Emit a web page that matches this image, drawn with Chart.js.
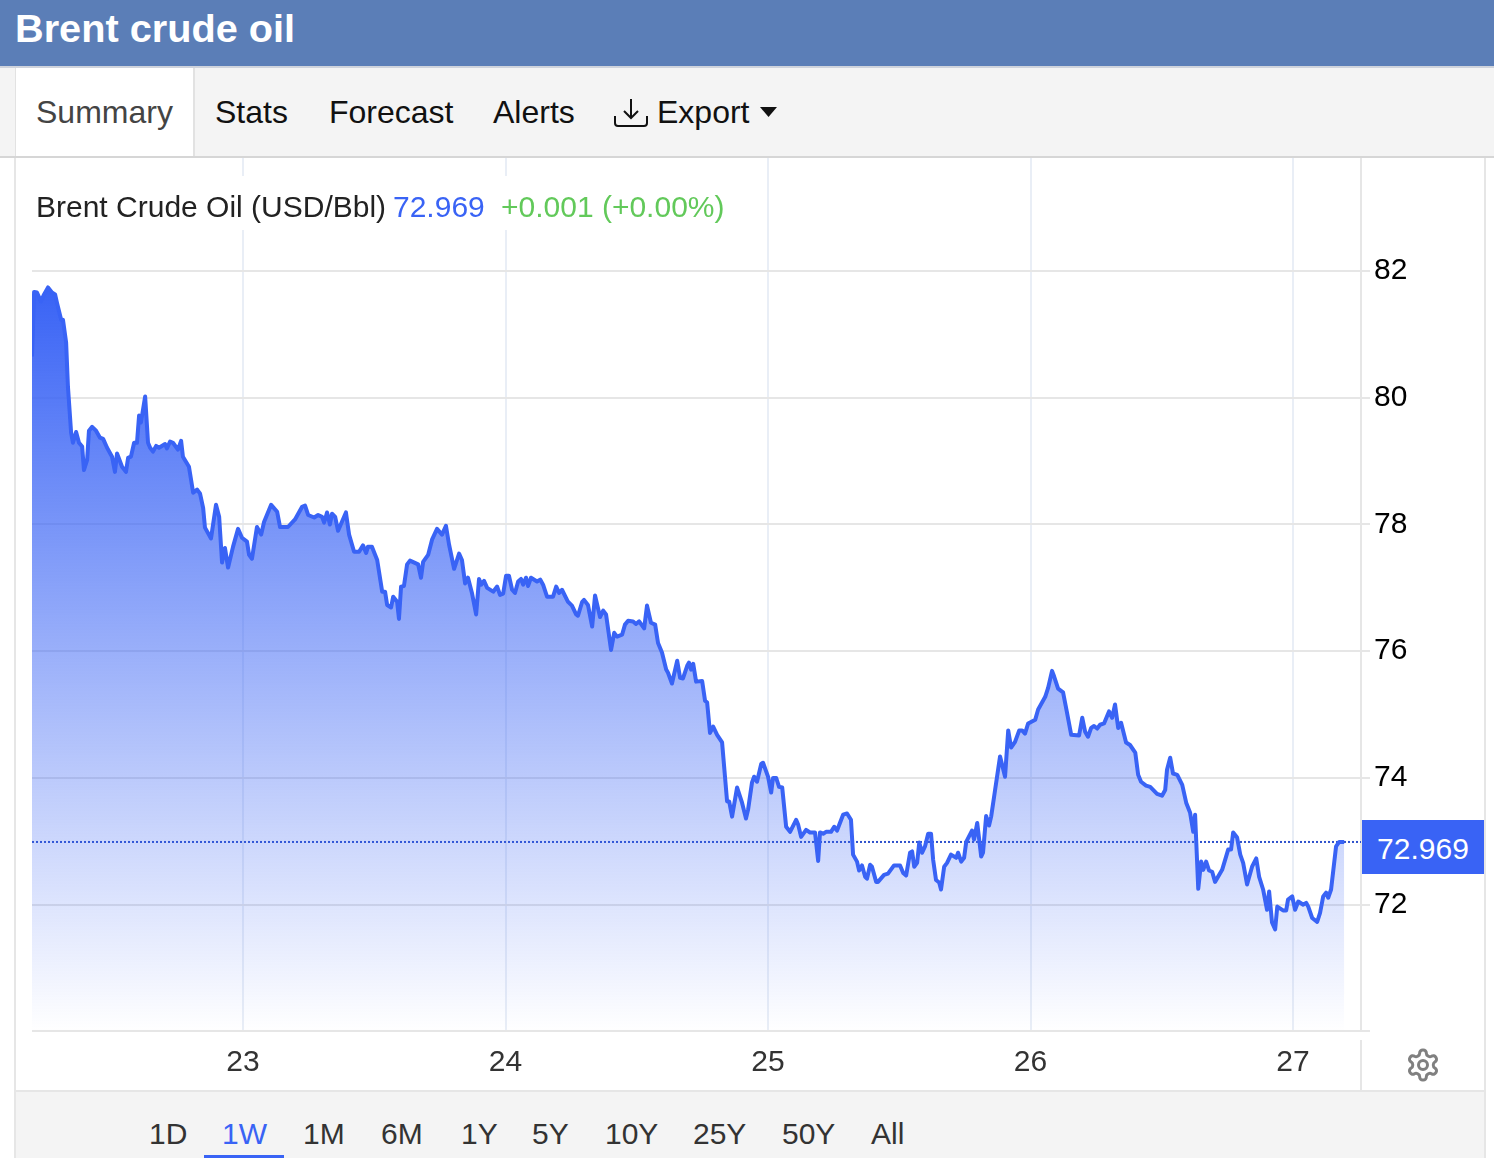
<!DOCTYPE html>
<html>
<head>
<meta charset="utf-8">
<title>Brent crude oil</title>
<script src="https://cdn.jsdelivr.net/npm/chart.js@4"></script>
<style>
  html, body { margin: 0; padding: 0; background: #fff; }
  body { position: relative; width: 1494px; height: 1158px; overflow: hidden; font-family: 'Liberation Sans', Arial, sans-serif; }
  .abs { position: absolute; white-space: nowrap; }
  #top-bar { left: 0; top: 0; width: 1494px; height: 66px; background: #5b7eb7; }
  #title { left: 15px; top: 5px; line-height: 46px; font-size: 39.7px; font-weight: bold; color: #fff; }
  #tab-bar { left: 0; top: 66px; width: 1494px; height: 90px; background: #f4f4f4; border-top: 2px solid #cfd3dc; border-bottom: 2px solid #d6d6d6; box-sizing: content-box; height: 88px; }
  #tab-active { left: 15px; top: 68px; width: 177px; height: 88px; background: #fff; border-left: 1px solid #e2e2e2; border-right: 2px solid #e2e2e2; }
  .tab { top: 92px; line-height: 40px; font-size: 32px; color: #111; }
  #frame { left: 14px; top: 158px; width: 1470px; height: 1000px; border-left: 2px solid #e6e6e6; border-right: 2px solid #e6e6e6; box-sizing: border-box; width: 1472px; }
  #chart-wrap { left: 16px; top: 158px; width: 1468px; height: 932px; }
  #legend { left: 32px; top: 176px; width: 700px; height: 54px; background: #fff; line-height: 62px; font-size: 30px; color: #222; }
  #axis-split { left: 1360px; top: 1040px; width: 2px; height: 50px; background: #e6e6e6; }
  #price-box { left: 1362px; top: 820px; width: 122px; height: 54px; background: #3963f5; color: #fff; font-size: 30px; line-height: 57px; text-align: center; }
  #range-bar { left: 16px; top: 1090px; width: 1468px; height: 68px; background: #f4f4f4; border-top: 2px solid #e6e6e6; box-sizing: border-box; }
  .range { top: 1114px; line-height: 40px; font-size: 30px; color: #333; }
  #range-line { left: 204px; top: 1155px; width: 80px; height: 3px; background: #3963f5; }
</style>
</head>
<body>
<div class="abs" id="top-bar"></div>
<div class="abs" id="title">Brent crude oil</div>
<div class="abs" id="tab-bar"></div>
<div class="abs" id="tab-active"></div>
<div class="abs tab" style="left:36px;color:#444">Summary</div>
<div class="abs tab" style="left:215px">Stats</div>
<div class="abs tab" style="left:329px">Forecast</div>
<div class="abs tab" style="left:493px">Alerts</div>
<svg class="abs" style="left:613px;top:97px" width="36" height="32" viewBox="0 0 36 32" fill="none" stroke="#111" stroke-width="2">
  <path d="M18 2V21M11 14L18 21L25 14"/>
  <path d="M2 19V26Q2 29 5 29H31Q34 29 34 26V19"/>
</svg>
<div class="abs tab" style="left:657px">Export</div>
<svg class="abs" style="left:760px;top:107px" width="17" height="10"><path d="M0 0H17L8.5 10Z" fill="#111"/></svg>

<div class="abs" id="frame"></div>
<div class="abs" id="chart-wrap"><canvas id="brentChart" width="1468" height="932"></canvas></div>
<div class="abs" id="legend"><span style="position:absolute;left:4px">Brent Crude Oil (USD/Bbl)</span><span style="position:absolute;left:361px;color:#3963f5">72.969</span><span style="position:absolute;left:469px;color:#62c95a">+0.001 (+0.00%)</span></div>
<div class="abs" id="price-box">72.969</div>
<div class="abs" id="axis-split"></div>
<svg class="abs" style="left:1405px;top:1047px" width="36" height="36" viewBox="0 0 24 24" fill="none" stroke="#808080" stroke-width="2">
  <path d="M12.22 2h-.44a2 2 0 0 0-2 2v.18a2 2 0 0 1-1 1.73l-.43.25a2 2 0 0 1-2 0l-.15-.08a2 2 0 0 0-2.73.73l-.22.38a2 2 0 0 0 .73 2.73l.15.1a2 2 0 0 1 1 1.72v.51a2 2 0 0 1-1 1.74l-.15.09a2 2 0 0 0-.73 2.73l.22.38a2 2 0 0 0 2.73.73l.15-.08a2 2 0 0 1 2 0l.43.25a2 2 0 0 1 1 1.73V20a2 2 0 0 0 2 2h.44a2 2 0 0 0 2-2v-.18a2 2 0 0 1 1-1.73l.43-.25a2 2 0 0 1 2 0l.15.08a2 2 0 0 0 2.73-.73l.22-.39a2 2 0 0 0-.73-2.73l-.15-.08a2 2 0 0 1-1-1.74v-.5a2 2 0 0 1 1-1.74l.15-.09a2 2 0 0 0 .73-2.73l-.22-.38a2 2 0 0 0-2.73-.73l-.15.08a2 2 0 0 1-2 0l-.43-.25a2 2 0 0 1-1-1.73V4a2 2 0 0 0-2-2z"/>
  <circle cx="12" cy="12" r="3"/>
</svg>

<div class="abs" id="range-bar"></div>
<div class="abs range" style="left:149px">1D</div>
<div class="abs range" style="left:222px;color:#3963f5">1W</div>
<div class="abs range" style="left:303px">1M</div>
<div class="abs range" style="left:381px">6M</div>
<div class="abs range" style="left:461px">1Y</div>
<div class="abs range" style="left:532px">5Y</div>
<div class="abs range" style="left:605px">10Y</div>
<div class="abs range" style="left:693px">25Y</div>
<div class="abs range" style="left:782px">50Y</div>
<div class="abs range" style="left:871px">All</div>
<div class="abs" id="range-line"></div>

<script>
'use strict';

// ********************* DATA *********************

// day of the month
let times = [
  22.196, 22.204, 22.215, 22.230, 22.242, 22.257, 22.272, 22.284, 22.291, 22.307, 22.314, 22.326, 22.333, 22.345, 22.352, 22.364,
  22.375, 22.387, 22.394, 22.406, 22.413, 22.425, 22.440, 22.455, 22.467, 22.482, 22.501, 22.512, 22.520, 22.539, 22.554, 22.562,
  22.573, 22.585, 22.596, 22.604, 22.611, 22.627, 22.638, 22.646, 22.657, 22.669, 22.680, 22.703, 22.710, 22.722, 22.733, 22.752,
  22.764, 22.771, 22.794, 22.810, 22.825, 22.836, 22.848, 22.855, 22.878, 22.897, 22.909, 22.920, 22.931, 22.943, 22.962, 22.981,
  22.996, 23.015, 23.023, 23.034, 23.053, 23.069, 23.080, 23.107, 23.130, 23.141, 23.171, 23.198, 23.225, 23.236, 23.248, 23.271,
  23.286, 23.301, 23.309, 23.320, 23.331, 23.339, 23.351, 23.362, 23.392, 23.404, 23.423, 23.442, 23.457, 23.469, 23.476, 23.491,
  23.511, 23.530, 23.541, 23.549, 23.564, 23.572, 23.587, 23.594, 23.602, 23.613, 23.625, 23.636, 23.667, 23.678, 23.686, 23.705,
  23.720, 23.739, 23.758, 23.773, 23.785, 23.804, 23.823, 23.834, 23.846, 23.857, 23.872, 23.888, 23.899, 23.907, 23.918, 23.930,
  23.953, 23.968, 23.979, 23.991, 24.002, 24.013, 24.025, 24.036, 24.048, 24.059, 24.067, 24.078, 24.086, 24.097, 24.120, 24.132,
  24.143, 24.158, 24.181, 24.193, 24.204, 24.215, 24.238, 24.253, 24.269, 24.276, 24.292, 24.299, 24.314, 24.330, 24.341, 24.360,
  24.372, 24.383, 24.402, 24.414, 24.425, 24.444, 24.455, 24.467, 24.486, 24.497, 24.509, 24.528, 24.539, 24.554, 24.570, 24.581,
  24.596, 24.612, 24.619, 24.634, 24.654, 24.665, 24.676, 24.692, 24.699, 24.707, 24.715, 24.726, 24.749, 24.760, 24.768, 24.779,
  24.791, 24.806, 24.825, 24.844, 24.852, 24.863, 24.882, 24.901, 24.916, 24.924, 24.939, 24.947, 24.958, 24.974, 24.981, 25.000,
  25.012, 25.019, 25.031, 25.042, 25.054, 25.069, 25.084, 25.107, 25.115, 25.126, 25.145, 25.160, 25.179, 25.191, 25.198, 25.210,
  25.221, 25.240, 25.252, 25.263, 25.286, 25.301, 25.316, 25.324, 25.339, 25.347, 25.358, 25.370, 25.377, 25.389, 25.396, 25.412,
  25.419, 25.442, 25.457, 25.480, 25.503, 25.515, 25.526, 25.541, 25.549, 25.557, 25.568, 25.576, 25.587, 25.598, 25.610, 25.621,
  25.629, 25.640, 25.652, 25.659, 25.671, 25.682, 25.697, 25.717, 25.724, 25.736, 25.747, 25.755, 25.777, 25.785, 25.797, 25.812,
  25.819, 25.831, 25.842, 25.850, 25.865, 25.884, 25.903, 25.915, 25.926, 25.941, 25.957, 25.968, 25.979, 25.991, 26.018, 26.029,
  26.056, 26.067, 26.082, 26.090, 26.105, 26.124, 26.139, 26.155, 26.185, 26.197, 26.208, 26.219, 26.231, 26.242, 26.254, 26.265,
  26.280, 26.299, 26.311, 26.322, 26.334, 26.345, 26.364, 26.379, 26.399, 26.410, 26.421, 26.440, 26.456, 26.482, 26.501, 26.513,
  26.520, 26.532, 26.543, 26.559, 26.578, 26.593, 26.608, 26.620, 26.627, 26.639, 26.650, 26.658, 26.669, 26.680, 26.692, 26.703,
  26.730, 26.753, 26.764, 26.772, 26.787, 26.799, 26.810, 26.825, 26.844, 26.860, 26.871, 26.886, 26.901, 26.909, 26.920, 26.932,
  26.940, 26.962, 26.974, 26.981, 26.997, 27.008, 27.020, 27.039, 27.050, 27.058, 27.073, 27.092, 27.103, 27.115, 27.126, 27.134,
  27.145, 27.164, 27.176, 27.195
];

// USD per barrel
let prices = [
  80.65, 81.67, 81.66, 81.52, 81.63, 81.74, 81.66, 81.63, 81.50, 81.23, 81.23, 80.87, 80.17, 79.45, 79.29, 79.46,
  79.29, 79.23, 78.86, 79.02, 79.48, 79.54, 79.48, 79.37, 79.35, 79.21, 79.07, 78.83, 79.12, 78.91, 78.83, 79.05,
  79.07, 79.29, 79.29, 79.72, 79.61, 80.02, 79.29, 79.21, 79.15, 79.24, 79.21, 79.27, 79.20, 79.31, 79.29, 79.18,
  79.32, 79.07, 78.91, 78.50, 78.55, 78.49, 78.26, 77.95, 77.78, 78.31, 78.12, 77.40, 77.63, 77.32, 77.65, 77.93,
  77.79, 77.73, 77.52, 77.46, 77.96, 77.84, 78.04, 78.31, 78.20, 77.96, 77.96, 78.08, 78.28, 78.30, 78.15, 78.11,
  78.15, 78.12, 78.03, 78.19, 78.00, 78.17, 78.12, 77.90, 78.19, 77.84, 77.57, 77.57, 77.67, 77.55, 77.65, 77.65,
  77.44, 76.94, 76.94, 76.73, 76.69, 76.86, 76.78, 76.51, 77.02, 77.03, 77.37, 77.43, 77.37, 77.16, 77.41, 77.52,
  77.76, 77.93, 77.84, 77.98, 77.68, 77.30, 77.54, 77.44, 77.07, 77.16, 76.92, 76.58, 77.14, 77.05, 77.11, 77.00,
  76.94, 77.02, 76.89, 76.91, 77.19, 77.19, 76.97, 76.92, 77.10, 77.14, 77.05, 77.16, 77.03, 77.16, 77.10, 77.13,
  77.05, 76.86, 76.86, 77.02, 76.92, 76.97, 76.78, 76.72, 76.58, 76.56, 76.78, 76.81, 76.73, 76.39, 76.88, 76.54,
  76.64, 76.58, 76.02, 76.29, 76.23, 76.26, 76.42, 76.48, 76.47, 76.43, 76.47, 76.36, 76.72, 76.45, 76.42, 76.13,
  75.98, 75.71, 75.66, 75.49, 75.85, 75.58, 75.57, 75.77, 75.82, 75.71, 75.80, 75.52, 75.53, 75.22, 75.19, 74.71,
  74.81, 74.68, 74.56, 73.63, 73.63, 73.39, 73.85, 73.61, 73.36, 73.50, 73.93, 74.02, 73.94, 74.22, 74.24, 74.02,
  73.77, 74.00, 74.00, 73.86, 73.85, 73.23, 73.15, 73.34, 73.26, 73.07, 73.18, 73.14, 73.14, 72.69, 73.14, 73.12,
  73.15, 73.15, 73.23, 73.17, 73.42, 73.44, 73.34, 72.79, 72.68, 72.54, 72.62, 72.44, 72.41, 72.63, 72.60, 72.36,
  72.36, 72.47, 72.49, 72.62, 72.62, 72.50, 72.46, 72.82, 72.84, 72.60, 72.66, 72.98, 72.82, 72.92, 73.12, 73.12,
  72.71, 72.39, 72.35, 72.24, 72.60, 72.66, 72.79, 72.74, 72.82, 72.68, 72.74, 72.99, 73.17, 73.03, 73.29, 72.76,
  72.82, 73.40, 73.25, 73.39, 73.81, 74.34, 74.02, 74.75, 74.48, 74.57, 74.75, 74.75, 74.70, 74.86, 74.92, 75.08,
  75.28, 75.42, 75.69, 75.60, 75.41, 75.35, 75.03, 74.68, 74.67, 74.95, 74.73, 74.65, 74.79, 74.82, 74.78, 74.84,
  74.86, 75.05, 74.95, 75.16, 74.79, 74.87, 74.56, 74.52, 74.40, 74.05, 73.94, 73.88, 73.86, 73.75, 73.72, 73.81,
  74.13, 74.32, 74.07, 74.05, 73.89, 73.61, 73.45, 73.15, 73.42, 72.25, 72.68, 72.55, 72.68, 72.54, 72.52, 72.36,
  72.55, 72.87, 72.87, 73.14, 73.06, 72.79, 72.66, 72.32, 72.60, 72.73, 72.44, 72.24, 71.92, 72.21, 71.72, 71.61,
  71.97, 71.91, 71.91, 72.08, 72.13, 71.92, 72.05, 72.00, 72.03, 71.97, 71.79, 71.73, 71.87, 72.13, 72.19, 72.11,
  72.24, 72.92, 72.99, 72.99
];

let dayTicks = [23, 24, 25, 26, 27];
let priceTicks = [72, 74, 76, 78, 80, 82];
let lastPriceLine = 72.99;

// ********************* AXIS RANGE ***************************

let xMin = 22.196;
let xMax = 27.259;
let yMin = 70.007;
let yMax = 83.783;

// ********************* HELPER FUNCTIONS *********************

function fillGradient(context) {
  let chart = context.chart;
  if (!chart.chartArea) {
    return 'rgba(57, 99, 245, 0.5)';
  }
  let top = chart.scales.y.getPixelForValue(Math.max(...prices));
  let gradient = chart.ctx.createLinearGradient(0, top, 0, chart.chartArea.bottom);
  gradient.addColorStop(0, 'rgba(57, 99, 245, 1)');
  gradient.addColorStop(1, 'rgba(57, 99, 245, 0)');
  return gradient;
}

function pricePoints() {
  let points = [];
  for (let i = 0; i < times.length; i++) {
    points.push({ x: times[i], y: prices[i] });
  }
  return points;
}

// ******************* RENDER CHART ***************************

let ctx = document.getElementById('brentChart');
let tickFont = { family: "'Liberation Sans', Arial, sans-serif", size: 30 };

new Chart(ctx, {
  type: 'line',
  data: {
    datasets: [{
      label: 'Brent Crude Oil (USD/Bbl)',
      data: pricePoints(),
      borderColor: '#3963f5',
      borderWidth: 4,
      borderJoinStyle: 'round',
      backgroundColor: fillGradient,
      fill: 'start',
      pointRadius: 0,
      tension: 0
    },
    {
      label: 'Last price',
      data: [{ x: xMin, y: lastPriceLine }, { x: xMax, y: lastPriceLine }],
      borderColor: '#2f52cc',
      borderWidth: 2,
      borderDash: [2, 2],
      pointRadius: 0,
      fill: false
    }]
  },
  options: {
    responsive: false,
    animation: false,
    layout: { padding: { left: 16, top: 0, right: 0, bottom: 0 } },
    plugins: { legend: { display: false }, tooltip: { enabled: false } },
    scales: {
      x: {
        type: 'linear',
        min: xMin,
        max: xMax,
        afterBuildTicks: function (scale) {
          scale.ticks = dayTicks.map(function (d) { return { value: d }; });
        },
        afterFit: function (scale) {
          scale.height = 59;
          scale.paddingLeft = 0;
          scale.paddingRight = 0;
        },
        grid: { color: '#e9eef6', lineWidth: 2, drawTicks: false },
        border: { display: false },
        ticks: {
          autoSkip: false,
          maxRotation: 0,
          padding: 14,
          color: '#333',
          font: tickFont,
          callback: function (value) { return String(value); }
        }
      },
      y: {
        position: 'right',
        min: yMin,
        max: yMax,
        afterBuildTicks: function (scale) {
          scale.ticks = [yMin].concat(priceTicks).map(function (v) { return { value: v }; });
        },
        afterFit: function (scale) {
          // tick labels must not push the plot area down
          scale.width = 123;
          scale.paddingTop = 0;
          scale.paddingBottom = 0;
        },
        grid: { color: '#e6e6e6', lineWidth: 2, tickLength: 9 },
        border: { display: true, color: '#e6e6e6', width: 2 },
        ticks: {
          autoSkip: false,
          padding: 4,
          color: '#000',
          font: tickFont,
          callback: function (value) { return priceTicks.includes(value) ? String(value) : ''; }
        }
      }
    }
  }
});
</script>
</body>
</html>
